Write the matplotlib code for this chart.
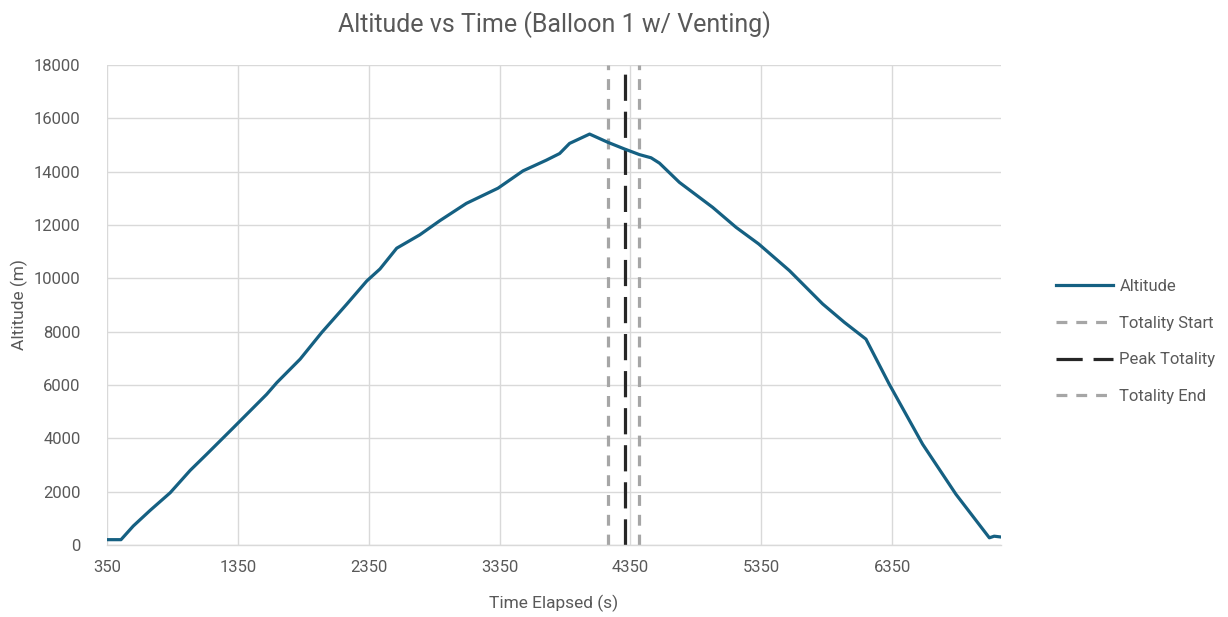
import matplotlib
matplotlib.use("Agg")
import matplotlib.pyplot as plt

# altitude trace (time in s, altitude in m)
time_s = [350, 457, 551, 680, 833, 986, 1111, 1316, 1570, 1648, 1826, 1991,
          2182, 2335, 2436, 2564, 2740, 2893, 3096, 3338, 3529, 3707, 3809,
          3885, 4038, 4178, 4305, 4419, 4508, 4572, 4724, 4979, 5158, 5330,
          5565, 5819, 5985, 6150, 6328, 6583, 6838, 7093, 7130, 7182]
altitude_m = [200, 200, 713, 1300, 1960, 2800, 3400, 4400, 5650, 6090, 6970,
              7970, 9030, 9900, 10350, 11130, 11630, 12160, 12810, 13380,
              14030, 14430, 14680, 15060, 15410, 15100, 14850, 14640, 14520,
              14320, 13600, 12660, 11910, 11290, 10290, 9040, 8350, 7720,
              6030, 3780, 1900, 270, 330, 300]

totality_start = 4178
peak_totality = 4305
totality_end = 4419
marker_top = [18000, 17680, 18000]

x_ticks = [350, 1350, 2350, 3350, 4350, 5350, 6350]
y_ticks = list(range(0, 18001, 2000))

TEXT = '#595959'
GRID = '#D9D9D9'
plt.rcParams['font.family'] = ['Roboto', 'DejaVu Sans']

fig = plt.figure(figsize=(12.28, 6.17), dpi=100)
ax = fig.add_axes([107 / 1228, 1 - 545 / 617, (1001 - 107) / 1228, 480 / 617])

ax.plot(time_s, altitude_m, color='#156082', lw=2.3, label='Altitude',
        solid_joinstyle='round', zorder=3)

ax.plot([totality_start] * 2, [0, marker_top[0]], color='#A6A6A6', lw=2.3,
        dashes=(3.4, 2.8), label='Totality Start', zorder=2)
ax.plot([peak_totality] * 2, [0, marker_top[1]], color='#262626', lw=2.3,
        dashes=(8.2, 3.4), label='Peak Totality', zorder=2)
ax.plot([totality_end] * 2, [0, marker_top[2]], color='#A6A6A6', lw=2.3,
        dashes=(3.4, 2.8), label='Totality End', zorder=2)

ax.set_xlim(350, 7182)
ax.set_ylim(0, 18000)
ax.set_xticks(x_ticks)
ax.set_yticks(y_ticks)
ax.grid(True, color=GRID, lw=1.0, zorder=0)
ax.set_axisbelow(True)
ax.tick_params(length=0, labelsize=12, labelcolor=TEXT)
ax.tick_params(axis='y', pad=19)
ax.tick_params(axis='x', pad=11)
for side in ['top', 'right', 'left']:
    ax.spines[side].set_visible(False)
ax.spines['bottom'].set_color(GRID)
ax.spines['bottom'].set_linewidth(1.0)

ax.set_title('Altitude vs Time (Balloon 1 w/ Venting)', fontsize=18,
             color=TEXT, pad=24)
ax.set_xlabel('Time Elapsed (s)', fontsize=12.5, color=TEXT, labelpad=14)
ax.set_ylabel('Altitude (m)', fontsize=12.5, color=TEXT, labelpad=4)

fig.legend(loc='center left', bbox_to_anchor=(1056 / 1228, 1 - 341.5 / 617),
           frameon=False, fontsize=12, labelcolor=TEXT, handlelength=3.4,
           handletextpad=0.4, labelspacing=1.3, borderpad=0,
           borderaxespad=0)

fig.savefig('out.png', dpi=100)
